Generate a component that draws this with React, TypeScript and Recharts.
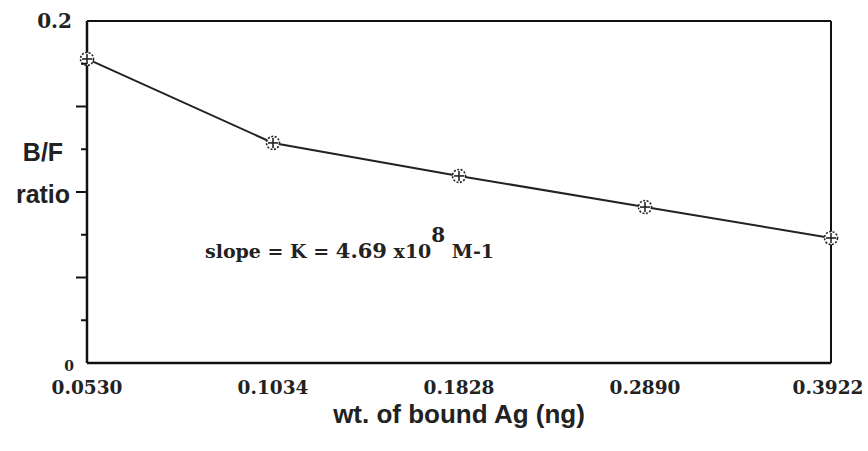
import { LineChart, Line, XAxis, YAxis, ReferenceLine, Label } from "recharts"

const boundAg = ["0.0530", "0.1034", "0.1828", "0.2890", "0.3922"]
const bfRatio = [0.1778, 0.1287, 0.1094, 0.0912, 0.0731]
const yTicks = [0, 0.025, 0.05, 0.075, 0.1, 0.125, 0.15, 0.175, 0.2]

const data = boundAg.map((ag, i) => ({ ag, ratio: bfRatio[i] }))

const serif = "'DejaVu Serif', serif"
const sans = "'Liberation Sans', Arial, sans-serif"

function YTick(props: any) {
  const { x, y, payload, index } = props
  const v = payload.value
  const long = index === 2 || index === 4 || index === 6
  const axisX = x + 8
  let label = null
  if (v === 0.2) label = "0.2"
  if (v === 0) label = "0"
  return (
    <g>
      {v !== 0 && v !== 0.2 && (
        <line x1={axisX - (long ? 11 : 6)} x2={axisX} y1={y} y2={y} stroke="#111" strokeWidth={2} />
      )}
      {label && (
        <text
          x={axisX - (v === 0 ? 13 : 15)}
          y={y + (v === 0 ? 8 : 7)}
          textAnchor="end"
          fontFamily={serif}
          fontWeight="bold"
          fontSize={v === 0 ? 14 : 20}
          fill="#222"
        >
          {label}
        </text>
      )}
    </g>
  )
}

function XTick(props: any) {
  const { x, y, payload, index } = props
  // keep the last label inside the frame like the original
  const shift = index === boundAg.length - 1 ? -3 : 0
  return (
    <text x={x + shift} y={y + 23} textAnchor="middle" fontFamily={serif} fontWeight="bold" fontSize={18.5} fill="#222">
      {payload.value}
    </text>
  )
}

function Marker(props: any) {
  const { cx, cy } = props
  if (cx == null || cy == null) return null
  return (
    <g>
      <circle cx={cx} cy={cy} r={6.5} fill="#fff" stroke="#222" strokeWidth={1.6} strokeDasharray="2 1.5" />
      <line x1={cx - 5} x2={cx + 5} y1={cy} y2={cy} stroke="#222" strokeWidth={1.6} />
      <line x1={cx} x2={cx} y1={cy - 5} y2={cy + 5} stroke="#222" strokeWidth={1.6} />
    </g>
  )
}

export default function App() {
  return (
    <div style={{ position: "absolute", left: 0, top: 0, width: 868, height: 451, background: "#fff" }}>
      <LineChart width={868} height={451} data={data} margin={{ top: 21, right: 37, left: 0, bottom: 0 }}>
        <XAxis
          dataKey="ag"
          height={88}
          interval={0}
          tickLine={false}
          axisLine={{ stroke: "#111", strokeWidth: 2.5 }}
          tick={<XTick />}
        >
          <Label
            value="wt. of bound Ag (ng)"
            position="insideBottom"
            offset={28}
            fontFamily={sans}
            fontWeight="bold"
            fontSize={26}
            fill="#222"
          />
        </XAxis>
        <YAxis
          width={87}
          domain={[0, 0.2]}
          ticks={yTicks}
          interval={0}
          tickLine={false}
          axisLine={{ stroke: "#111", strokeWidth: 2.5 }}
          tick={<YTick />}
        />
        <ReferenceLine y={0.2} stroke="#111" strokeWidth={2} />
        <ReferenceLine x="0.3922" stroke="#111" strokeWidth={2} />
        <Line
          dataKey="ratio"
          stroke="#222"
          strokeWidth={2}
          dot={<Marker />}
          activeDot={false}
          isAnimationActive={false}
        />
      </LineChart>
      <div style={{ position: "absolute", left: 12, top: 131, width: 62, textAlign: "center", fontFamily: sans, fontWeight: "bold", fontSize: 25, color: "#222", lineHeight: "42px" }}>
        B/F
        <br />
        ratio
      </div>
      <div style={{ position: "absolute", left: 205, top: 232, fontFamily: serif, fontWeight: "bold", fontSize: 19, color: "#222", whiteSpace: "nowrap" }}>
        slope = K = <span style={{ fontSize: 21 }}>4.69</span> x10<sup style={{ fontSize: 20, position: "relative", top: -9 }}>8</sup> M-1
      </div>
    </div>
  )
}
